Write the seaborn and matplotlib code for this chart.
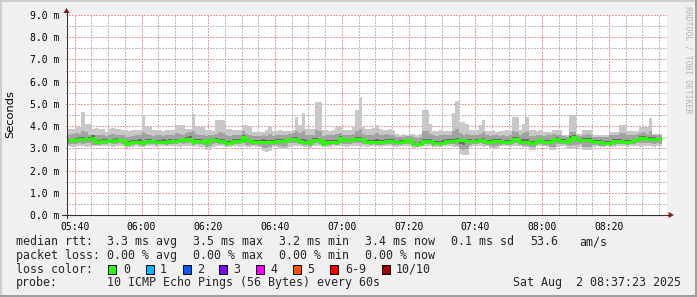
import numpy as np
import pandas as pd
import matplotlib
matplotlib.use("Agg")
import matplotlib.pyplot as plt
import seaborn as sns
from matplotlib.patches import Rectangle, Polygon
from matplotlib.lines import Line2D

# ---------------- data (minutes after 05:40, one sample per minute) ----------------
minutes = list(range(-2, 176))

median_ms = [
    3.36, 3.36, 3.36, 3.43, 3.43, 3.42, 3.43, 3.46, 3.29, 3.29,
    3.32, 3.32, 3.36, 3.35, 3.36, 3.36, 3.37, 3.21, 3.22, 3.29,
    3.29, 3.30, 3.22, 3.32, 3.32, 3.31, 3.29, 3.29, 3.30, 3.29,
    3.32, 3.32, 3.32, 3.36, 3.36, 3.43, 3.44, 3.29, 3.32, 3.32,
    3.31, 3.24, 3.36, 3.36, 3.36, 3.32, 3.32, 3.25, 3.25, 3.32,
    3.32, 3.33, 3.50, 3.36, 3.36, 3.29, 3.29, 3.29, 3.29, 3.29,
    3.29, 3.29, 3.32, 3.32, 3.32, 3.36, 3.40, 3.40, 3.40, 3.32,
    3.29, 3.29, 3.22, 3.36, 3.36, 3.36, 3.21, 3.29, 3.29, 3.29,
    3.29, 3.48, 3.36, 3.36, 3.36, 3.40, 3.40, 3.40, 3.40, 3.29,
    3.29, 3.29, 3.29, 3.29, 3.29, 3.33, 3.33, 3.33, 3.29, 3.29,
    3.29, 3.36, 3.36, 3.20, 3.20, 3.20, 3.32, 3.32, 3.32, 3.26,
    3.26, 3.26, 3.26, 3.32, 3.32, 3.32, 3.36, 3.36, 3.36, 3.32,
    3.32, 3.32, 3.32, 3.36, 3.36, 3.29, 3.29, 3.33, 3.33, 3.33,
    3.29, 3.29, 3.29, 3.43, 3.43, 3.29, 3.29, 3.29, 3.25, 3.25,
    3.36, 3.36, 3.29, 3.29, 3.29, 3.40, 3.40, 3.32, 3.32, 3.29,
    3.43, 3.50, 3.36, 3.36, 3.38, 3.38, 3.38, 3.29, 3.29, 3.29,
    3.25, 3.25, 3.25, 3.33, 3.33, 3.33, 3.29, 3.29, 3.29, 3.36,
    3.36, 3.46, 3.46, 3.43, 3.43, 3.43, 3.40, 3.40,
]

max_ms = [
    3.89, 3.89, 3.97, 3.97, 4.64, 4.11, 4.11, 3.89, 3.92, 3.88,
    3.89, 3.74, 3.89, 3.90, 3.88, 3.89, 3.82, 3.82, 3.80, 3.83,
    3.82, 3.82, 4.49, 3.97, 3.97, 3.82, 3.84, 3.82, 3.80, 3.82,
    3.82, 3.82, 4.04, 4.04, 4.04, 3.89, 3.89, 4.56, 3.97, 3.97,
    3.95, 3.82, 3.82, 3.80, 4.29, 4.29, 4.29, 3.89, 3.89, 3.82,
    3.82, 3.82, 4.04, 4.04, 4.02, 3.74, 3.74, 3.72, 3.74, 3.82,
    4.00, 3.80, 3.78, 3.82, 3.76, 3.80, 3.78, 3.82, 4.41, 4.04,
    4.59, 3.89, 3.89, 3.89, 5.09, 5.09, 3.82, 3.82, 3.80, 3.82,
    3.97, 3.97, 3.82, 3.82, 3.82, 3.97, 4.72, 5.32, 3.97, 3.86,
    3.89, 3.90, 4.04, 3.86, 3.84, 3.82, 3.86, 3.84, 3.66, 3.62,
    3.66, 3.60, 3.64, 3.66, 3.62, 3.66, 4.71, 4.71, 4.11, 3.80,
    3.78, 3.82, 3.76, 3.80, 3.78, 4.60, 5.14, 4.20, 4.20, 4.10,
    3.82, 3.82, 3.82, 4.04, 4.26, 3.80, 3.76, 3.82, 3.74, 3.80,
    3.76, 3.82, 3.78, 4.41, 4.41, 3.82, 4.11, 4.41, 3.82, 3.82,
    3.80, 3.82, 3.74, 3.74, 3.74, 3.82, 3.82, 3.82, 3.60, 3.59,
    4.49, 4.49, 3.66, 3.66, 3.82, 3.82, 3.82, 3.59, 3.59, 3.62,
    3.59, 3.60, 3.74, 3.74, 3.74, 4.04, 4.04, 3.78, 3.78, 3.78,
    3.78, 3.97, 3.97, 3.97, 4.37, 3.66, 3.66, 3.66,
]

min_ms = [
    3.10, 3.08, 3.10, 3.12, 3.10, 3.06, 3.08, 3.10, 3.12, 3.10,
    3.10, 3.12, 3.10, 3.08, 3.10, 3.12, 3.10, 3.02, 3.04, 3.08,
    3.10, 3.08, 3.06, 3.10, 3.12, 3.10, 3.08, 3.10, 3.12, 3.10,
    3.10, 3.12, 3.10, 3.08, 3.10, 3.12, 3.10, 3.06, 3.10, 3.08,
    3.06, 2.92, 2.94, 3.08, 3.10, 3.12, 3.10, 3.04, 3.06, 3.10,
    3.10, 3.08, 3.12, 3.04, 3.06, 3.10, 3.08, 3.06, 2.86, 2.84,
    2.86, 3.06, 3.08, 2.96, 2.96, 2.98, 3.08, 3.10, 3.12, 3.10,
    3.08, 3.04, 3.00, 3.10, 3.12, 3.10, 3.04, 3.06, 3.08, 3.10,
    3.10, 3.12, 3.10, 3.08, 3.10, 3.12, 3.10, 3.08, 3.10, 3.08,
    3.10, 3.12, 3.10, 3.08, 3.10, 3.12, 3.10, 3.06, 3.08, 3.10,
    3.10, 3.12, 3.10, 3.02, 3.04, 3.06, 3.10, 3.12, 3.10, 3.04,
    3.06, 3.08, 3.10, 3.12, 3.10, 3.08, 3.04, 2.74, 2.70, 2.72,
    3.08, 3.10, 3.12, 3.10, 3.08, 3.10, 3.00, 2.98, 3.00, 3.10,
    3.12, 3.10, 3.08, 3.10, 3.12, 3.10, 3.06, 3.04, 2.92, 2.92,
    3.10, 3.12, 3.10, 3.08, 2.92, 2.94, 3.08, 3.10, 3.12, 3.02,
    2.99, 2.99, 3.00, 3.08, 2.92, 2.92, 2.94, 3.08, 3.10, 3.06,
    3.08, 3.10, 3.06, 3.08, 3.10, 3.12, 3.10, 3.08, 3.10, 3.12,
    3.10, 3.08, 3.10, 3.12, 3.10, 3.08, 3.10, 3.12,
]

# 2nd highest / 2nd lowest ping
upper2_ms = [
    3.62, 3.64, 3.70, 3.66, 3.80, 3.72, 3.60, 3.58, 3.62, 3.60,
    3.58, 3.56, 3.62, 3.64, 3.60, 3.62, 3.58, 3.52, 3.50, 3.56,
    3.58, 3.60, 3.74, 3.66, 3.60, 3.56, 3.58, 3.60, 3.56, 3.58,
    3.60, 3.58, 3.70, 3.66, 3.62, 3.70, 3.72, 3.80, 3.64, 3.62,
    3.58, 3.54, 3.62, 3.60, 3.66, 3.74, 3.70, 3.60, 3.56, 3.58,
    3.60, 3.62, 3.76, 3.66, 3.60, 3.56, 3.54, 3.56, 3.58, 3.54,
    3.64, 3.56, 3.58, 3.60, 3.58, 3.62, 3.66, 3.68, 3.80, 3.70,
    3.76, 3.62, 3.58, 3.62, 3.82, 3.78, 3.56, 3.58, 3.60, 3.58,
    3.66, 3.70, 3.62, 3.60, 3.62, 3.64, 3.78, 3.86, 3.66, 3.62,
    3.60, 3.62, 3.70, 3.62, 3.60, 3.64, 3.60, 3.58, 3.52, 3.50,
    3.52, 3.54, 3.56, 3.50, 3.48, 3.52, 3.80, 3.76, 3.66, 3.58,
    3.56, 3.58, 3.60, 3.58, 3.62, 3.80, 3.86, 3.70, 3.62, 3.64,
    3.60, 3.58, 3.62, 3.66, 3.72, 3.58, 3.56, 3.60, 3.58, 3.56,
    3.58, 3.56, 3.60, 3.76, 3.74, 3.58, 3.68, 3.74, 3.56, 3.54,
    3.62, 3.60, 3.56, 3.58, 3.60, 3.66, 3.62, 3.60, 3.54, 3.52,
    3.72, 3.74, 3.58, 3.56, 3.62, 3.64, 3.60, 3.52, 3.50, 3.52,
    3.50, 3.52, 3.58, 3.60, 3.62, 3.70, 3.68, 3.62, 3.60, 3.62,
    3.64, 3.70, 3.72, 3.66, 3.76, 3.62, 3.60, 3.62,
]

lower2_ms = [
    3.20, 3.18, 3.20, 3.22, 3.20, 3.22, 3.24, 3.16, 3.14, 3.16,
    3.18, 3.20, 3.22, 3.20, 3.18, 3.22, 3.20, 3.10, 3.12, 3.16,
    3.18, 3.16, 3.12, 3.18, 3.20, 3.18, 3.16, 3.18, 3.20, 3.16,
    3.18, 3.20, 3.18, 3.22, 3.20, 3.24, 3.26, 3.16, 3.18, 3.20,
    3.16, 3.06, 3.10, 3.20, 3.22, 3.18, 3.20, 3.12, 3.14, 3.18,
    3.20, 3.18, 3.22, 3.16, 3.14, 3.16, 3.14, 3.12, 3.02, 3.00,
    3.04, 3.14, 3.16, 3.10, 3.08, 3.12, 3.22, 3.24, 3.22, 3.18,
    3.16, 3.14, 3.10, 3.20, 3.22, 3.20, 3.10, 3.14, 3.16, 3.18,
    3.16, 3.22, 3.20, 3.18, 3.20, 3.22, 3.24, 3.22, 3.20, 3.18,
    3.16, 3.18, 3.16, 3.14, 3.16, 3.18, 3.20, 3.16, 3.14, 3.16,
    3.18, 3.20, 3.18, 3.10, 3.08, 3.10, 3.18, 3.20, 3.18, 3.12,
    3.14, 3.12, 3.14, 3.18, 3.20, 3.18, 3.16, 2.96, 2.92, 2.98,
    3.16, 3.18, 3.20, 3.22, 3.20, 3.16, 3.10, 3.08, 3.12, 3.16,
    3.18, 3.16, 3.14, 3.22, 3.24, 3.16, 3.12, 3.10, 3.04, 3.06,
    3.18, 3.20, 3.16, 3.14, 3.06, 3.08, 3.20, 3.18, 3.20, 3.14,
    3.12, 3.14, 3.16, 3.20, 3.06, 3.04, 3.08, 3.16, 3.14, 3.12,
    3.12, 3.14, 3.12, 3.16, 3.18, 3.20, 3.18, 3.16, 3.18, 3.20,
    3.22, 3.24, 3.26, 3.24, 3.22, 3.20, 3.22, 3.20,
]

# 4th highest / 4th lowest ping
upper4_ms = [
    3.44, 3.42, 3.46, 3.50, 3.52, 3.48, 3.50, 3.58, 3.38, 3.36,
    3.40, 3.42, 3.44, 3.42, 3.46, 3.44, 3.42, 3.30, 3.32, 3.38,
    3.36, 3.40, 3.32, 3.40, 3.42, 3.38, 3.36, 3.38, 3.40, 3.36,
    3.40, 3.38, 3.42, 3.44, 3.42, 3.52, 3.56, 3.40, 3.40, 3.42,
    3.38, 3.32, 3.44, 3.42, 3.46, 3.40, 3.42, 3.32, 3.34, 3.40,
    3.40, 3.42, 3.60, 3.44, 3.42, 3.36, 3.38, 3.36, 3.40, 3.36,
    3.38, 3.36, 3.40, 3.42, 3.40, 3.44, 3.48, 3.50, 3.52, 3.42,
    3.40, 3.36, 3.30, 3.46, 3.48, 3.44, 3.30, 3.36, 3.38, 3.36,
    3.38, 3.56, 3.44, 3.42, 3.44, 3.48, 3.50, 3.52, 3.46, 3.36,
    3.38, 3.36, 3.40, 3.36, 3.38, 3.42, 3.40, 3.42, 3.34, 3.36,
    3.36, 3.44, 3.42, 3.28, 3.26, 3.30, 3.42, 3.44, 3.40, 3.34,
    3.34, 3.32, 3.36, 3.40, 3.42, 3.44, 3.48, 3.44, 3.42, 3.40,
    3.40, 3.38, 3.42, 3.44, 3.46, 3.36, 3.38, 3.42, 3.40, 3.42,
    3.36, 3.38, 3.36, 3.52, 3.50, 3.38, 3.40, 3.42, 3.32, 3.34,
    3.44, 3.42, 3.36, 3.38, 3.36, 3.48, 3.50, 3.40, 3.40, 3.36,
    3.54, 3.58, 3.44, 3.42, 3.46, 3.48, 3.46, 3.36, 3.38, 3.36,
    3.32, 3.34, 3.32, 3.42, 3.40, 3.42, 3.36, 3.38, 3.36, 3.44,
    3.44, 3.54, 3.56, 3.50, 3.52, 3.50, 3.48, 3.48,
]

lower4_ms = [
    3.30, 3.28, 3.30, 3.36, 3.34, 3.36, 3.34, 3.38, 3.22, 3.24,
    3.26, 3.24, 3.28, 3.30, 3.28, 3.30, 3.30, 3.16, 3.16, 3.22,
    3.22, 3.24, 3.16, 3.26, 3.24, 3.26, 3.22, 3.24, 3.24, 3.22,
    3.26, 3.26, 3.24, 3.30, 3.28, 3.36, 3.36, 3.22, 3.26, 3.24,
    3.24, 3.16, 3.28, 3.30, 3.28, 3.26, 3.26, 3.18, 3.18, 3.26,
    3.26, 3.26, 3.40, 3.30, 3.28, 3.22, 3.24, 3.22, 3.20, 3.18,
    3.20, 3.22, 3.26, 3.24, 3.22, 3.28, 3.32, 3.34, 3.32, 3.26,
    3.22, 3.22, 3.16, 3.28, 3.30, 3.28, 3.14, 3.22, 3.24, 3.22,
    3.22, 3.40, 3.30, 3.28, 3.30, 3.34, 3.32, 3.34, 3.32, 3.22,
    3.22, 3.24, 3.22, 3.22, 3.24, 3.26, 3.28, 3.26, 3.22, 3.22,
    3.22, 3.30, 3.28, 3.14, 3.14, 3.14, 3.26, 3.26, 3.26, 3.20,
    3.20, 3.18, 3.20, 3.26, 3.24, 3.26, 3.28, 3.20, 3.16, 3.24,
    3.26, 3.24, 3.26, 3.30, 3.28, 3.22, 3.20, 3.24, 3.26, 3.26,
    3.22, 3.22, 3.22, 3.36, 3.36, 3.22, 3.20, 3.20, 3.16, 3.18,
    3.30, 3.28, 3.22, 3.22, 3.20, 3.32, 3.32, 3.26, 3.24, 3.22,
    3.34, 3.40, 3.28, 3.30, 3.30, 3.28, 3.30, 3.22, 3.22, 3.22,
    3.18, 3.18, 3.18, 3.26, 3.26, 3.24, 3.22, 3.22, 3.22, 3.28,
    3.28, 3.38, 3.36, 3.34, 3.36, 3.34, 3.32, 3.32,
]

xtick_minutes = [0, 20, 40, 60, 80, 100, 120, 140, 160]
xtick_labels = ["05:40", "06:00", "06:20", "06:40", "07:00", "07:20", "07:40", "08:00", "08:20"]
ytick_values = [0, 1, 2, 3, 4, 5, 6, 7, 8, 9]
ytick_labels = ["0.0 m", "1.0 m", "2.0 m", "3.0 m", "4.0 m", "5.0 m", "6.0 m", "7.0 m", "8.0 m", "9.0 m"]

rtt_stats = ["3.3 ms avg", "3.5 ms max", "3.2 ms min", "3.4 ms now", "0.1 ms sd", "53.6", "am/s"]
loss_stats = ["0.00 % avg", "0.00 % max", "0.00 % min", "0.00 % now"]
loss_labels = ["0", "1", "2", "3", "4", "5", "6-9", "10/10"]
loss_colors = ["#26ff00", "#00b8ff", "#0059ff", "#7e00ff", "#ff00ff", "#ff5500", "#ff0000", "#a10000"]
probe_text = "10 ICMP Echo Pings (56 Bytes) every 60s"
stamp_text = "Sat Aug  2 08:37:23 2025"

# ---------------- drawing ----------------
sns.set_style("white")
plt.rcParams["font.family"] = ["DejaVu Sans Mono", "DejaVu Sans"]
plt.rcParams["lines.scale_dashes"] = False

W, H = 697, 297
fig = plt.figure(figsize=(W / 100, H / 100), dpi=100)
fig.patch.set_facecolor("#f0f0f0")


def fx(x):
    return x / W


def fy(y):
    return 1 - y / H


ax = fig.add_axes([fx(66), fy(215), (667 - 66) / W, 200 / H])
ax.set_facecolor("white")

x = np.append(np.array(minutes, dtype=float), minutes[-1] + 1)


def ext(a):
    a = np.asarray(a, dtype=float)
    return np.append(a, a[-1])


ax.fill_between(x, ext(min_ms), ext(max_ms), step="post", color="#c8c8c8", lw=0, zorder=2,
                antialiased=False)
ax.fill_between(x, ext(lower2_ms), ext(upper2_ms), step="post", color="#a2a2a2", lw=0, zorder=3,
                antialiased=False)
ax.fill_between(x, ext(lower4_ms), ext(upper4_ms), step="post", color="#6a6a6a", lw=0, zorder=4,
                antialiased=False)

df = pd.DataFrame({"minute": x, "median": ext(median_ms)})
sns.lineplot(data=df, x="minute", y="median", drawstyle="steps-post", color="#26ff00",
             lw=2.2, ax=ax, zorder=5, solid_capstyle="butt")

ax.set_xlim(-2.617, 177.383)
ax.set_ylim(0, 9)
ax.set_xlabel("")
ax.set_ylabel("")

ax.set_xticks(xtick_minutes)
ax.set_xticklabels(xtick_labels)
ax.set_xticks([m for m in range(5, 177, 5) if m % 20 != 0], minor=True)
ax.set_yticks(ytick_values)
ax.set_yticklabels(ytick_labels)
ax.set_yticks([v + 0.5 for v in ytick_values[:-1]], minor=True)

ax.set_axisbelow(True)
dot = (0, (1.44, 1.44))
ax.grid(which="major", color="#e99a9a", linestyle=dot, linewidth=0.72)
ax.grid(which="minor", color="#bcbcbc", linestyle=dot, linewidth=0.72)
for axis in (ax.xaxis, ax.yaxis):
    for t in axis.get_major_ticks() + axis.get_minor_ticks():
        t.gridline.set_antialiased(False)
        t.gridline.set_snap(True)

for s in ax.spines.values():
    s.set_visible(False)

ax.tick_params(which="major", length=2.2, width=0.7, color="#333333", labelsize=7, pad=2.6,
               labelcolor="#000000")
ax.tick_params(which="minor", length=1.4, width=0.7, color="#333333")

# axes lines and arrows
axis_col = "#333333"
arrow_col = "#8b1a1a"
fig.add_artist(Line2D([fx(66.5), fx(66.5)], [fy(218), fy(11)], transform=fig.transFigure,
                      color=axis_col, lw=0.8))
fig.add_artist(Line2D([fx(62), fx(669)], [fy(215), fy(215)], transform=fig.transFigure,
                      color=axis_col, lw=0.8))
fig.add_artist(Polygon([[fx(63.5), fy(13)], [fx(69.5), fy(13)], [fx(66.5), fy(8)]],
                       closed=True, transform=fig.transFigure, color=arrow_col, lw=0))
fig.add_artist(Polygon([[fx(668.5), fy(212)], [fx(668.5), fy(218)], [fx(674), fy(215)]],
                       closed=True, transform=fig.transFigure, color=arrow_col, lw=0))

# y label and watermark
fig.text(fx(10.5), fy(114), "Seconds", rotation=90, ha="center", va="center",
         fontsize=8.2, family="DejaVu Sans", color="#000000")
fig.text(fx(688), fy(60), "RRDTOOL / TOBI OETIKER", rotation=270, ha="center", va="center",
         fontsize=5.9, family="DejaVu Sans Mono", color="#b4b4b4")

# legend block
fs = 8.4
mono = "DejaVu Sans Mono"
row_y = [241.7, 255.3, 269.3, 282.7]
fig.text(fx(16), fy(row_y[0]), "median rtt:", fontsize=fs, family=mono, va="center")
for xp, t in zip([107.3, 193.3, 279.3, 365, 451, 530.7, 579.3], rtt_stats):
    fig.text(fx(xp), fy(row_y[0]), t, fontsize=fs, family=mono, va="center")
fig.text(fx(16), fy(row_y[1]), "packet loss:", fontsize=fs, family=mono, va="center")
for xp, t in zip([107.3, 193.3, 279.3, 365], loss_stats):
    fig.text(fx(xp), fy(row_y[1]), t, fontsize=fs, family=mono, va="center")
fig.text(fx(16), fy(row_y[2]), "loss color:", fontsize=fs, family=mono, va="center")
sq_x = [108, 145.5, 182.5, 219, 256, 293, 330, 381.5]
lab_x = [123.3, 160, 196.7, 233.3, 270.7, 307.3, 345, 396]
for sx, lx, lab, col in zip(sq_x, lab_x, loss_labels, loss_colors):
    fig.add_artist(Rectangle((fx(sx), fy(274)), 8 / W, 9 / H, transform=fig.transFigure,
                             facecolor=col, edgecolor="#000000", lw=0.7))
    fig.text(fx(lx), fy(row_y[2]), lab, fontsize=fs, family=mono, va="center")
fig.text(fx(16), fy(row_y[3]), "probe:", fontsize=fs, family=mono, va="center")
fig.text(fx(107.3), fy(row_y[3]), probe_text, fontsize=fs, family=mono, va="center")
fig.text(fx(681), fy(row_y[3]), stamp_text, fontsize=fs, family=mono, va="center", ha="right")

# 3D-ish frame
fig.add_artist(Line2D([0, 1], [fy(0.7), fy(0.7)], transform=fig.transFigure, color="#cfcfcf", lw=1.44))
fig.add_artist(Line2D([fx(0.7), fx(0.7)], [0, 1], transform=fig.transFigure, color="#cfcfcf", lw=1.44))
fig.add_artist(Line2D([0, 1], [fy(296.3), fy(296.3)], transform=fig.transFigure, color="#9e9e9e", lw=1.44))
fig.add_artist(Line2D([fx(696.3), fx(696.3)], [0, 1], transform=fig.transFigure, color="#9e9e9e", lw=1.44))

fig.savefig("out.png", dpi=100, facecolor=fig.get_facecolor())
